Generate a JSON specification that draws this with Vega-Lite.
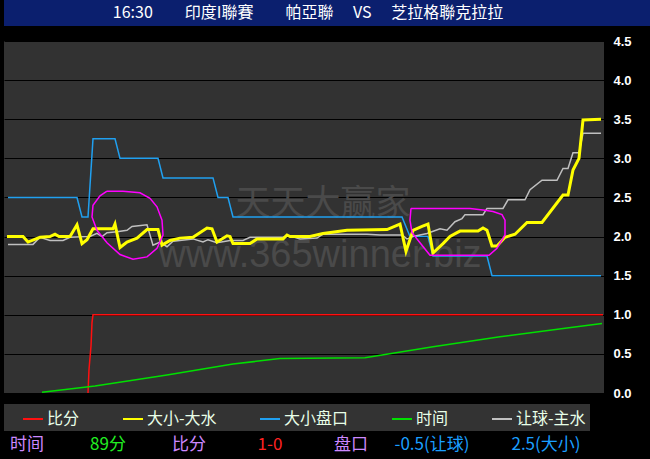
{
  "$schema": "https://vega.github.io/schema/vega-lite/v6.json",
  "background": "#000000",
  "padding": {"left": 4, "top": 0, "right": 0, "bottom": 0},
  "spacing": 15,
  "bounds": "flush",
  "config": {"view": {"stroke": null}},
  "resolve": {"scale": {"color": "independent"}, "legend": {"color": "independent"}},
  "datasets": {
    "series": [
      {"s": "比分", "t": 84, "v": 0}, {"s": "比分", "t": 85, "v": 0.3}, {"s": "比分", "t": 87, "v": 0.6}, {"s": "比分", "t": 88, "v": 0.9}, {"s": "比分", "t": 89, "v": 1.0}, {"s": "比分", "t": 599, "v": 1.0},
      {"s": "时间", "t": 38, "v": 0.01}, {"s": "时间", "t": 91, "v": 0.09}, {"s": "时间", "t": 163, "v": 0.23}, {"s": "时间", "t": 229, "v": 0.37}, {"s": "时间", "t": 276, "v": 0.44}, {"s": "时间", "t": 361, "v": 0.45}, {"s": "时间", "t": 429, "v": 0.59}, {"s": "时间", "t": 496, "v": 0.72}, {"s": "时间", "t": 563, "v": 0.83}, {"s": "时间", "t": 598, "v": 0.89},
      {"s": "大小盘口", "t": 4, "v": 2.5}, {"s": "大小盘口", "t": 73, "v": 2.5}, {"s": "大小盘口", "t": 78, "v": 2.25}, {"s": "大小盘口", "t": 84, "v": 2.25}, {"s": "大小盘口", "t": 89, "v": 3.25}, {"s": "大小盘口", "t": 111, "v": 3.25}, {"s": "大小盘口", "t": 116, "v": 3.0}, {"s": "大小盘口", "t": 154, "v": 3.0}, {"s": "大小盘口", "t": 159, "v": 2.75}, {"s": "大小盘口", "t": 209, "v": 2.75}, {"s": "大小盘口", "t": 214, "v": 2.5}, {"s": "大小盘口", "t": 224, "v": 2.5}, {"s": "大小盘口", "t": 229, "v": 2.25}, {"s": "大小盘口", "t": 398, "v": 2.25}, {"s": "大小盘口", "t": 406, "v": 2.0}, {"s": "大小盘口", "t": 424, "v": 2.0}, {"s": "大小盘口", "t": 429, "v": 1.75}, {"s": "大小盘口", "t": 483, "v": 1.75}, {"s": "大小盘口", "t": 488, "v": 1.5}, {"s": "大小盘口", "t": 597, "v": 1.5},
      {"s": "让球-主水", "t": 4, "v": 1.9}, {"s": "让球-主水", "t": 29, "v": 1.9}, {"s": "让球-主水", "t": 36, "v": 1.99}, {"s": "让球-主水", "t": 46, "v": 1.95}, {"s": "让球-主水", "t": 59, "v": 1.95}, {"s": "让球-主水", "t": 66, "v": 1.99}, {"s": "让球-主水", "t": 86, "v": 2.0}, {"s": "让球-主水", "t": 93, "v": 2.04}, {"s": "让球-主水", "t": 98, "v": 2.0}, {"s": "让球-主水", "t": 103, "v": 2.05}, {"s": "让球-主水", "t": 113, "v": 2.06}, {"s": "让球-主水", "t": 123, "v": 2.08}, {"s": "让球-主水", "t": 128, "v": 2.13}, {"s": "让球-主水", "t": 143, "v": 2.15}, {"s": "让球-主水", "t": 149, "v": 1.89}, {"s": "让球-主水", "t": 156, "v": 1.93}, {"s": "让球-主水", "t": 163, "v": 1.87}, {"s": "让球-主水", "t": 169, "v": 1.94}, {"s": "让球-主水", "t": 189, "v": 1.97}, {"s": "让球-主水", "t": 199, "v": 1.93}, {"s": "让球-主水", "t": 204, "v": 1.96}, {"s": "让球-主水", "t": 213, "v": 1.92}, {"s": "让球-主水", "t": 226, "v": 1.95}, {"s": "让球-主水", "t": 239, "v": 1.95}, {"s": "让球-主水", "t": 246, "v": 1.99}, {"s": "让球-主水", "t": 279, "v": 1.99}, {"s": "让球-主水", "t": 286, "v": 2.01}, {"s": "让球-主水", "t": 296, "v": 1.97}, {"s": "让球-主水", "t": 313, "v": 1.98}, {"s": "让球-主水", "t": 319, "v": 2.03}, {"s": "让球-主水", "t": 363, "v": 2.03}, {"s": "让球-主水", "t": 376, "v": 2.02}, {"s": "让球-主水", "t": 398, "v": 2.02}, {"s": "让球-主水", "t": 403, "v": 1.97}, {"s": "让球-主水", "t": 409, "v": 2.0}, {"s": "让球-主水", "t": 423, "v": 2.04}, {"s": "让球-主水", "t": 436, "v": 2.1}, {"s": "让球-主水", "t": 443, "v": 2.08}, {"s": "让球-主水", "t": 451, "v": 2.19}, {"s": "让球-主水", "t": 458, "v": 2.23}, {"s": "让球-主水", "t": 461, "v": 2.28}, {"s": "让球-主水", "t": 479, "v": 2.28}, {"s": "让球-主水", "t": 483, "v": 2.36}, {"s": "让球-主水", "t": 499, "v": 2.36}, {"s": "让球-主水", "t": 504, "v": 2.47}, {"s": "让球-主水", "t": 521, "v": 2.47}, {"s": "让球-主水", "t": 526, "v": 2.6}, {"s": "让球-主水", "t": 538, "v": 2.72}, {"s": "让球-主水", "t": 553, "v": 2.72}, {"s": "让球-主水", "t": 559, "v": 2.87}, {"s": "让球-主水", "t": 564, "v": 2.87}, {"s": "让球-主水", "t": 569, "v": 3.07}, {"s": "让球-主水", "t": 575, "v": 3.07}, {"s": "让球-主水", "t": 579, "v": 3.32}, {"s": "让球-主水", "t": 597, "v": 3.32},
      {"s": "大小-大水", "t": 3, "v": 2.0}, {"s": "大小-大水", "t": 19, "v": 2.0}, {"s": "大小-大水", "t": 24, "v": 1.93}, {"s": "大小-大水", "t": 36, "v": 1.99}, {"s": "大小-大水", "t": 46, "v": 2.0}, {"s": "大小-大水", "t": 51, "v": 2.03}, {"s": "大小-大水", "t": 55, "v": 2.0}, {"s": "大小-大水", "t": 66, "v": 2.0}, {"s": "大小-大水", "t": 73, "v": 2.15}, {"s": "大小-大水", "t": 78, "v": 1.91}, {"s": "大小-大水", "t": 83, "v": 1.96}, {"s": "大小-大水", "t": 89, "v": 2.1}, {"s": "大小-大水", "t": 109, "v": 2.1}, {"s": "大小-大水", "t": 111, "v": 2.16}, {"s": "大小-大水", "t": 116, "v": 1.86}, {"s": "大小-大水", "t": 123, "v": 1.93}, {"s": "大小-大水", "t": 133, "v": 1.98}, {"s": "大小-大水", "t": 143, "v": 2.09}, {"s": "大小-大水", "t": 154, "v": 2.09}, {"s": "大小-大水", "t": 158, "v": 1.89}, {"s": "大小-大水", "t": 166, "v": 1.95}, {"s": "大小-大水", "t": 176, "v": 1.98}, {"s": "大小-大水", "t": 189, "v": 1.99}, {"s": "大小-大水", "t": 203, "v": 2.11}, {"s": "大小-大水", "t": 208, "v": 2.1}, {"s": "大小-大水", "t": 213, "v": 1.93}, {"s": "大小-大水", "t": 223, "v": 2.01}, {"s": "大小-大水", "t": 226, "v": 2.0}, {"s": "大小-大水", "t": 229, "v": 1.91}, {"s": "大小-大水", "t": 246, "v": 1.91}, {"s": "大小-大水", "t": 253, "v": 1.97}, {"s": "大小-大水", "t": 279, "v": 1.97}, {"s": "大小-大水", "t": 283, "v": 2.02}, {"s": "大小-大水", "t": 286, "v": 2.0}, {"s": "大小-大水", "t": 306, "v": 2.0}, {"s": "大小-大水", "t": 319, "v": 2.04}, {"s": "大小-大水", "t": 343, "v": 2.08}, {"s": "大小-大水", "t": 383, "v": 2.09}, {"s": "大小-大水", "t": 396, "v": 2.16}, {"s": "大小-大水", "t": 402, "v": 1.81}, {"s": "大小-大水", "t": 409, "v": 2.08}, {"s": "大小-大水", "t": 418, "v": 2.13}, {"s": "大小-大水", "t": 424, "v": 2.16}, {"s": "大小-大水", "t": 429, "v": 1.79}, {"s": "大小-大水", "t": 439, "v": 1.91}, {"s": "大小-大水", "t": 446, "v": 2.0}, {"s": "大小-大水", "t": 453, "v": 2.05}, {"s": "大小-大水", "t": 456, "v": 2.07}, {"s": "大小-大水", "t": 474, "v": 2.07}, {"s": "大小-大水", "t": 479, "v": 2.11}, {"s": "大小-大水", "t": 483, "v": 2.08}, {"s": "大小-大水", "t": 488, "v": 1.88}, {"s": "大小-大水", "t": 493, "v": 1.88}, {"s": "大小-大水", "t": 501, "v": 1.99}, {"s": "大小-大水", "t": 511, "v": 2.03}, {"s": "大小-大水", "t": 523, "v": 2.18}, {"s": "大小-大水", "t": 538, "v": 2.18}, {"s": "大小-大水", "t": 559, "v": 2.53}, {"s": "大小-大水", "t": 564, "v": 2.53}, {"s": "大小-大水", "t": 569, "v": 2.85}, {"s": "大小-大水", "t": 575, "v": 3.0}, {"s": "大小-大水", "t": 579, "v": 3.49}, {"s": "大小-大水", "t": 597, "v": 3.5}
    ],
    "marks": [
      {"shape": "A", "i": 1, "t": 103, "v": 2.58}, {"shape": "A", "i": 2, "t": 119, "v": 2.58}, {"shape": "A", "i": 3, "t": 136, "v": 2.56}, {"shape": "A", "i": 4, "t": 146, "v": 2.49}, {"shape": "A", "i": 5, "t": 153, "v": 2.38}, {"shape": "A", "i": 6, "t": 158, "v": 2.21}, {"shape": "A", "i": 7, "t": 159, "v": 2.02}, {"shape": "A", "i": 8, "t": 153, "v": 1.85}, {"shape": "A", "i": 9, "t": 143, "v": 1.74}, {"shape": "A", "i": 10, "t": 129, "v": 1.71}, {"shape": "A", "i": 11, "t": 116, "v": 1.77}, {"shape": "A", "i": 12, "t": 103, "v": 1.92}, {"shape": "A", "i": 13, "t": 93, "v": 2.08}, {"shape": "A", "i": 14, "t": 88, "v": 2.25}, {"shape": "A", "i": 15, "t": 89, "v": 2.4}, {"shape": "A", "i": 16, "t": 96, "v": 2.52}, {"shape": "A", "i": 17, "t": 103, "v": 2.58},
      {"shape": "B", "i": 1, "t": 407, "v": 2.36}, {"shape": "B", "i": 2, "t": 466, "v": 2.36}, {"shape": "B", "i": 3, "t": 479, "v": 2.34}, {"shape": "B", "i": 4, "t": 489, "v": 2.32}, {"shape": "B", "i": 5, "t": 498, "v": 2.28}, {"shape": "B", "i": 6, "t": 501, "v": 2.21}, {"shape": "B", "i": 7, "t": 501, "v": 2.02}, {"shape": "B", "i": 8, "t": 493, "v": 1.85}, {"shape": "B", "i": 9, "t": 485, "v": 1.76}, {"shape": "B", "i": 10, "t": 426, "v": 1.76}, {"shape": "B", "i": 11, "t": 416, "v": 1.92}, {"shape": "B", "i": 12, "t": 408, "v": 2.05}, {"shape": "B", "i": 13, "t": 406, "v": 2.21}, {"shape": "B", "i": 14, "t": 407, "v": 2.36}
    ],
    "info": [
      {"i": 1, "k": "时间", "kind": "标签"},
      {"i": 2, "k": "89分", "kind": "时间"},
      {"i": 3, "k": "比分", "kind": "标签"},
      {"i": 4, "k": "1-0", "kind": "比分"},
      {"i": 5, "k": "盘口", "kind": "标签"},
      {"i": 6, "k": "-0.5(让球)", "kind": "盘口"},
      {"i": 7, "k": "2.5(大小)", "kind": "盘口"}
    ]
  },
  "vconcat": [
    {
      "width": 646,
      "height": 26,
      "view": {"fill": "#0b1f6e", "stroke": null},
      "data": {"values": [{"title": "16:30　　印度I聯賽　　帕亞聯　 VS　 芝拉格聯克拉拉"}]},
      "mark": {"type": "text", "font": "Noto Sans CJK TC", "fontSize": 16, "color": "#ffffff", "dx": -19, "baseline": "middle", "align": "center"},
      "encoding": {"text": {"field": "title", "type": "nominal"}}
    },
    {
      "width": 600,
      "height": 352,
      "view": {"fill": "#323232", "stroke": null},
      "layer": [
        {
          "data": {"values": [{"w": "天天大赢家"}]},
          "mark": {"type": "text", "font": "Noto Sans CJK SC", "fontSize": 35, "color": "#4a4a4a", "dx": 19, "dy": -13, "baseline": "middle", "align": "center"},
          "encoding": {"text": {"field": "w", "type": "nominal"}}
        },
        {
          "data": {"values": [{"w": "www.365winner.biz"}]},
          "mark": {"type": "text", "font": "Liberation Sans", "fontSize": 38, "color": "#4a4a4a", "dx": 16, "dy": 50, "baseline": "alphabetic", "align": "center"},
          "encoding": {"text": {"field": "w", "type": "nominal"}}
        },
        {
          "data": {"name": "series"},
          "transform": [{"filter": "datum.s != '大小-大水'"}],
          "mark": {"type": "line", "strokeWidth": 1.5, "clip": true},
          "encoding": {
            "x": {"field": "t", "type": "quantitative", "scale": {"domain": [0, 600]}, "axis": null},
            "y": {"field": "v", "type": "quantitative", "scale": {"domain": [0, 4.5]},
              "axis": {"orient": "right", "values": [0, 0.5, 1, 1.5, 2, 2.5, 3, 3.5, 4, 4.5], "format": ".1f", "grid": true, "gridColor": "#000000", "gridWidth": 1.2, "domain": false, "ticks": false, "labelColor": "#ffffff", "labelFont": "Liberation Sans", "labelFontSize": 13, "labelFontWeight": "bold", "labelPadding": 9, "title": null}},
            "color": {"field": "s", "type": "nominal",
              "scale": {"domain": ["比分", "大小-大水", "大小盘口", "时间", "让球-主水"], "range": ["#ff1010", "#ffff00", "#20a0f0", "#00e000", "#c0c0c0"]},
              "legend": {"orient": "bottom", "direction": "horizontal", "offset": 11, "title": " ", "titleOrient": "left", "titlePadding": 14, "titleFontSize": 11, "fillColor": "#333333", "padding": 4, "symbolType": "stroke", "symbolSize": 400, "symbolStrokeWidth": 2, "labelColor": "#e8ffe8", "labelFont": "Noto Sans CJK SC", "labelFontSize": 16, "labelOffset": 3, "columnPadding": 39, "labelExpr": "datum.label == '让球-主水' ? datum.label + '　' : datum.label"}}
          }
        },
        {
          "data": {"name": "series"},
          "transform": [{"filter": "datum.s == '大小-大水'"}],
          "mark": {"type": "line", "strokeWidth": 3, "clip": true},
          "encoding": {
            "x": {"field": "t", "type": "quantitative", "scale": {"domain": [0, 600]}, "axis": null},
            "y": {"field": "v", "type": "quantitative", "scale": {"domain": [0, 4.5]},
              "axis": {"orient": "right", "values": [0, 0.5, 1, 1.5, 2, 2.5, 3, 3.5, 4, 4.5], "format": ".1f", "grid": true, "gridColor": "#000000", "gridWidth": 1.2, "domain": false, "ticks": false, "labelColor": "#ffffff", "labelFont": "Liberation Sans", "labelFontSize": 13, "labelFontWeight": "bold", "labelPadding": 9, "title": null}},
            "color": {"field": "s", "type": "nominal"}
          }
        },
        {
          "data": {"name": "marks"},
          "mark": {"type": "line", "strokeWidth": 1.5, "color": "#ff00ff", "clip": true},
          "encoding": {
            "x": {"field": "t", "type": "quantitative", "scale": {"domain": [0, 600]}, "axis": null},
            "y": {"field": "v", "type": "quantitative", "scale": {"domain": [0, 4.5]},
              "axis": {"orient": "right", "values": [0, 0.5, 1, 1.5, 2, 2.5, 3, 3.5, 4, 4.5], "format": ".1f", "grid": true, "gridColor": "#000000", "gridWidth": 1.2, "domain": false, "ticks": false, "labelColor": "#ffffff", "labelFont": "Liberation Sans", "labelFontSize": 13, "labelFontWeight": "bold", "labelPadding": 9, "title": null}},
            "detail": {"field": "shape", "type": "nominal"},
            "order": {"field": "i", "type": "quantitative"}
          }
        }
      ]
    },
    {
      "width": 532,
      "height": 51,
      "data": {"name": "info"},
      "layer": [
        {
          "transform": [{"filter": "datum.i < 7"}],
          "mark": {"type": "text", "font": "Noto Sans CJK SC", "fontSize": 17, "dy": 11.5, "baseline": "middle", "align": "center"},
          "encoding": {
            "x": {"field": "k", "type": "ordinal", "scale": {"type": "point", "domain": ["时间", "89分", "比分", "1-0", "盘口", "-0.5(让球)", "2.5(大小)"], "padding": 0.284}, "axis": null},
            "text": {"field": "k", "type": "nominal"},
            "color": {"field": "kind", "type": "nominal", "scale": {"domain": ["标签", "时间", "比分", "盘口"], "range": ["#cc88ff", "#22ee22", "#ff2222", "#1a9fff"]}, "legend": null}
          }
        },
        {
          "transform": [{"filter": "datum.i == 7"}],
          "mark": {"type": "text", "font": "Noto Sans CJK SC", "fontSize": 17, "dy": 11.5, "dx": 33, "baseline": "middle", "align": "center"},
          "encoding": {
            "x": {"field": "k", "type": "ordinal", "scale": {"type": "point", "domain": ["时间", "89分", "比分", "1-0", "盘口", "-0.5(让球)", "2.5(大小)"], "padding": 0.284}, "axis": null},
            "text": {"field": "k", "type": "nominal"},
            "color": {"field": "kind", "type": "nominal", "legend": null}
          }
        }
      ]
    }
  ]
}
